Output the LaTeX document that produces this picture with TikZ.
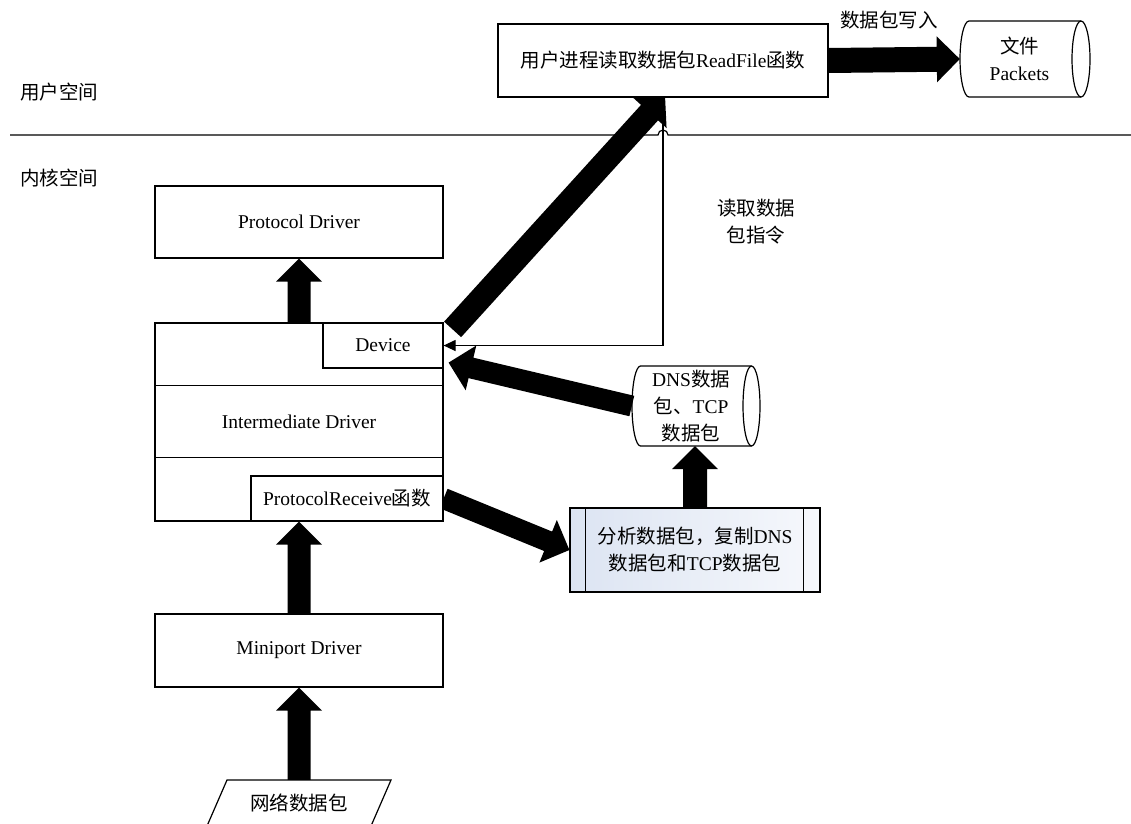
\documentclass[tikz,border=0pt]{standalone}
\usepackage{fontspec}
\setmainfont{Liberation Serif}
\newfontfamily\cjk{Noto Sans CJK SC}
\usetikzlibrary{calc,arrows.meta}
\pgfdeclarelayer{back}
\pgfsetlayers{back,main}

\definecolor{anaL}{RGB}{220,228,242}
\definecolor{anaR}{RGB}{246,248,252}

\newcommand\zh[1]{{\cjk #1}}

% block arrow: [shaft half width]{from}{to}
\newcommand\fatarrow[3][11.5]{%
  \coordinate (fa-h) at ($(#3)!23pt!(#2)$);
  \fill ($(#2)!#1pt!90:(#3)$) -- ($(fa-h)!#1pt!90:(#3)$) -- ($(fa-h)!23pt!90:(#3)$) -- (#3)
        -- ($(fa-h)!23pt!-90:(#3)$) -- ($(fa-h)!#1pt!-90:(#3)$) -- ($(#2)!#1pt!-90:(#3)$) -- cycle;}

% horizontal drum outline around a node: {node}{left offset}{right offset}{half height}{end radius}
\newcommand\drum[5]{%
  \draw[line width=1.2pt] ($(#1.center)+(#2+#5,-#4)$) -- ($(#1.center)+(#3-#5,-#4)$)
    arc[start angle=-90,end angle=90,x radius=#5,y radius=#4]
    -- ($(#1.center)+(#2+#5,#4)$)
    arc[start angle=90,end angle=270,x radius=#5,y radius=#4] -- cycle;
  \draw[line width=1.2pt] ($(#1.center)+(#3-#5,-#4)$)
    arc[start angle=-90,end angle=-270,x radius=#5,y radius=#4];}

\begin{document}
\begin{tikzpicture}[x=1pt,y=-1pt,
  every node/.style={font=\fontsize{19.5}{27}\selectfont, inner sep=0pt},
  panel/.style={draw, line width=1.2pt, fill=white, align=center},
  thin/.style={line width=1.2pt}]
\useasboundingbox (0,0) rectangle (1131,823);
\clip (0,0) rectangle (1131,823);

% user space
\node[panel, minimum width=330, minimum height=73] (user) at (663,60.5)
  {\zh{用户进程读取数据包}ReadFile\zh{函数}};
\node (write) at (889,20) {\zh{数据包写入}};
\node[align=center, minimum width=119, minimum height=76] (file) at (1019.5,59)
  {\zh{文件}\\Packets};
\drum{file}{-59.5}{70.5}{38}{9}

\node (uspace) at (59,92) {\zh{用户空间}};
\node (kspace) at (59,178) {\zh{内核空间}};

% user/kernel boundary with a hop where the command line crosses
\draw[thin] (10,135) -- (658,135) arc[start angle=180,end angle=360,radius=5] -- (1131,135);

% driver stack
\node[panel, minimum width=288, minimum height=72] (pd) at (299,222) {Protocol Driver};
\node[panel, minimum width=288, minimum height=198] (inter) at (299,422) {Intermediate Driver};
\draw[thin] ($(inter.north west)+(0,63)$) -- ($(inter.north east)+(0,63)$);
\draw[thin] ($(inter.north west)+(0,135)$) -- ($(inter.north east)+(0,135)$);
\node[panel, minimum width=120, minimum height=45, anchor=north east] (dev) at (inter.north east) {Device};
\node[panel, minimum width=192, minimum height=45, anchor=south east] (prx) at (inter.south east)
  {ProtocolReceive\zh{函数}};
\node[panel, minimum width=288, minimum height=73] (mp) at (299,650.5) {Miniport Driver};

\node[minimum width=164, minimum height=46] (net) at (299,803) {\zh{网络数据包}};
\draw[thin] ($(net.center)+(-72,-23)$) -- ($(net.center)+(92,-23)$)
  -- ($(net.center)+(72,23)$) -- ($(net.center)+(-92,23)$) -- cycle;

% capture side
\node[align=center, minimum width=118, minimum height=80] (dns) at (691,406)
  {DNS\zh{数据}\\\zh{包、}TCP\\\zh{数据包}};
\drum{dns}{-59}{69}{40}{8.5}

\node[panel, minimum width=250, minimum height=84, left color=anaL, right color=anaR] (ana) at (695,550)
  {\zh{分析数据包，复制}DNS\\\zh{数据包和}TCP\zh{数据包}};
\draw[thin] ($(ana.north west)+(16,0)$) -- ($(ana.south west)+(16,0)$);
\draw[thin] ($(ana.north east)+(-17,0)$) -- ($(ana.south east)+(-17,0)$);

\node[align=center] (cmd) at (756,222) {\zh{读取数据}\\\zh{包指令}};

% read command from the user process down to the device
\draw[thin, -{Triangle[length=12pt,width=11pt]}] (user.south) -- (user.south |- dev.east) -- (dev.east);

% data flow
\coordinate (dnsin) at (ana.north |- dns.south);
\coordinate (devin) at ($(dev.south east)+(5,-6)$);
\coordinate (diagfoot) at ($(dev.north east)+(9,7)$);
\coordinate (diagtip) at ($(user.south)+(2,-2)$);
\begin{pgfonlayer}{back}
  \fatarrow[12.5]{user.east}{file.west}
  \fatarrow{inter.north}{pd.south}
  \fatarrow{mp.north}{inter.south}
  \fatarrow{net.north}{mp.south}
  \fatarrow[12]{ana.north}{dnsin}
  \fatarrow[10.5]{prx.east}{ana.west}
  \fatarrow[10.5]{dns.west}{devin}
  \fatarrow{diagfoot}{diagtip}
\end{pgfonlayer}
\end{tikzpicture}
\end{document}
